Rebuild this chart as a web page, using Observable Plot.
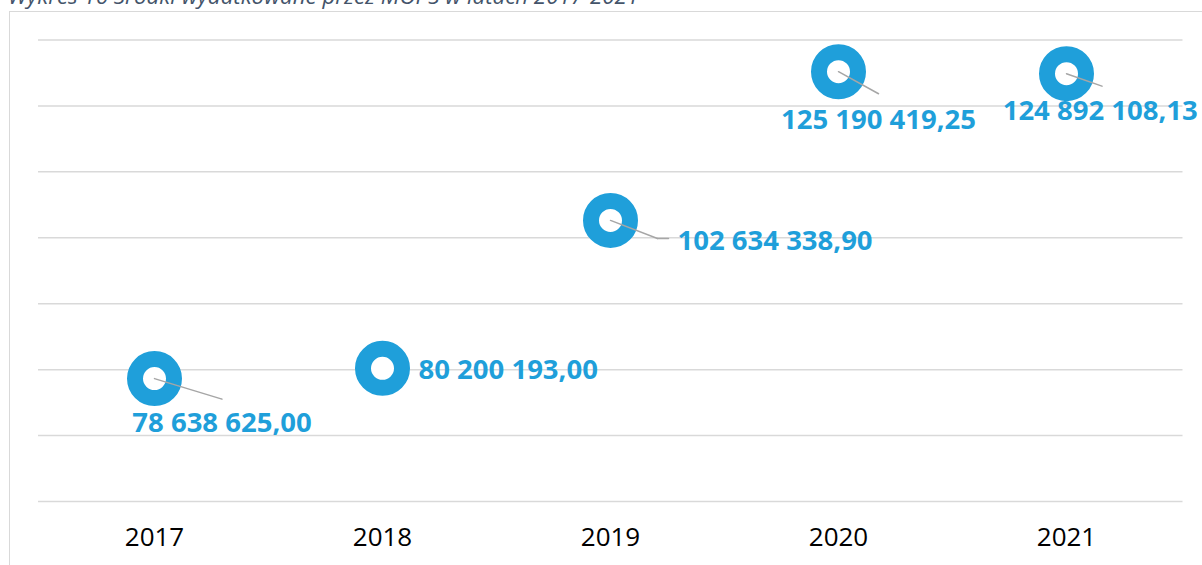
<!DOCTYPE html>
<html>
<head>
<meta charset="utf-8">
<script src="https://cdn.jsdelivr.net/npm/d3@7"></script>
<script src="https://cdn.jsdelivr.net/npm/@observablehq/plot@0.6"></script>
<style>
  html, body { margin: 0; padding: 0; background: #fff; overflow: hidden; }
  #wrap { position: relative; width: 1202px; height: 565px; overflow: hidden; }
  #title { position: absolute; left: 8px; top: -15px; font: italic 22.3px/22px "Open Sans", sans-serif; color: #44546a; white-space: nowrap; }
  #frame { position: absolute; left: 9px; top: 11px; width: 1300px; height: 700px; border-left: 1px solid #d9d9d9; border-top: 1px solid #d9d9d9; }
  #chart { position: absolute; left: 0; top: 0; }
</style>
</head>
<body>
<div id="wrap">
  <div id="title">Wykres 16 Środki wydatkowane przez MOPS w latach 2017-2021</div>
  <div id="frame"></div>
  <div id="chart"></div>
</div>
<script>
// ---- data ----
const years = ["2017", "2018", "2019", "2020", "2021"];
const values = [78638625.00, 80200193.00, 102634338.90, 125190419.25, 124892108.13];
const gridTicks = [60e6, 70e6, 80e6, 90e6, 100e6, 110e6, 120e6, 130e6];

// ---- annotation layout (pixel offsets from each marker) ----
const labelLayout = [
  {anchor: "middle", dx: 67.5, dy: 44.6},
  {anchor: "start",  dx: 36,   dy: 1.5},
  {anchor: "start",  dx: 67,   dy: 20.4},
  {anchor: "middle", dx: 40,   dy: 48},
  {anchor: "middle", dx: 33.7, dy: 37.6}
];
const leaderLayout = [
  [{length: 70.5, rotate: 106.9, dx: 0, dy: 0}],
  [],
  [{length: 50.3, rotate: 111, dx: 0, dy: 0}, {length: 11, rotate: 90, dx: 47, dy: 18}],
  [{length: 45.7, rotate: 118.8, dx: 0, dy: 0}],
  [{length: 37.6, rotate: 109.4, dx: 0, dy: 0}]
];

const blue = "#1f9fda";
const grey = "#a6a6a6";
const locale = d3.formatLocale({decimal: ",", thousands: " ", grouping: [3], currency: ["", ""]});
const fmt = locale.format(",.2f");

const data = years.map((year, i) => ({year, value: values[i]}));

const leaderMarks = [];
const labelMarks = [];
data.forEach((d, i) => {
  leaderLayout[i].forEach(seg => {
    leaderMarks.push(Plot.vector([d], {
      x: "year", y: "value", length: seg.length, rotate: seg.rotate,
      anchor: "start", r: 0, dx: seg.dx, dy: seg.dy,
      stroke: grey, strokeWidth: 1.5
    }));
  });
  const L = labelLayout[i];
  labelMarks.push(Plot.text([d], {
    x: "year", y: "value", text: p => fmt(p.value),
    textAnchor: L.anchor, lineAnchor: "middle", dx: L.dx, dy: L.dy,
    fill: blue, fontSize: 27.5, fontWeight: "bold"
  }));
});

const plot = Plot.plot({
  width: 1202,
  height: 565,
  marginLeft: 38,
  marginRight: 19.5,
  marginTop: 39.5,
  marginBottom: 64,
  style: {background: "transparent", fontFamily: "'Open Sans', sans-serif", overflow: "visible"},
  x: {type: "band", domain: years, padding: 0},
  y: {domain: [60e6, 130e6], axis: null},
  marks: [
    Plot.ruleY(gridTicks, {stroke: "#d9d9d9", strokeWidth: 1.5}),
    Plot.axisX({tickSize: 0, tickPadding: 26.5, fontSize: 26, fill: "#000", label: null}),
    Plot.dot(data, {x: "year", y: "value", r: 19.5, fill: "#fff", stroke: blue, strokeWidth: 16}),
    ...leaderMarks,
    ...labelMarks
  ]
});
document.getElementById("chart").appendChild(plot);
</script>
</body>
</html>
